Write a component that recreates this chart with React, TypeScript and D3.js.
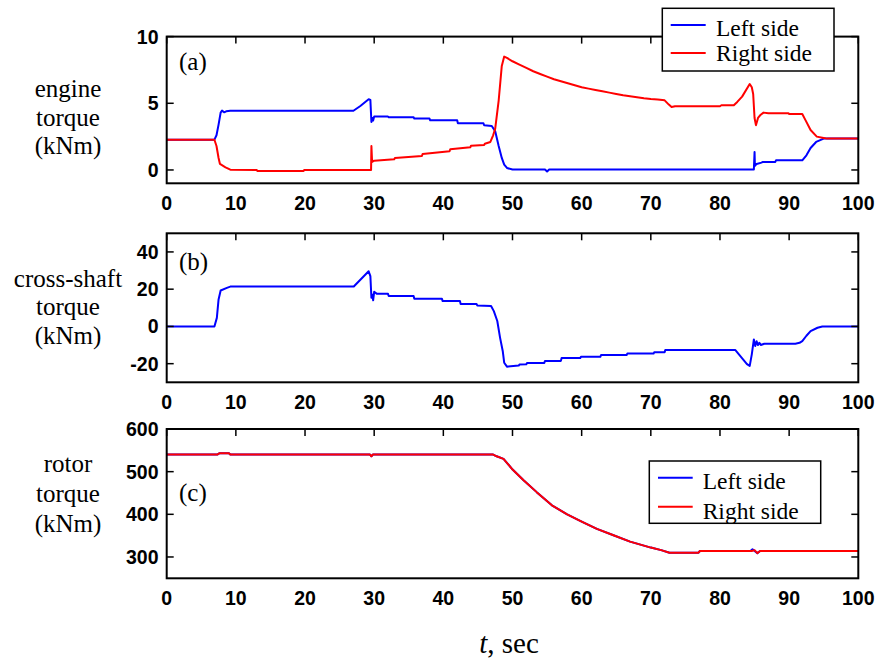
import React from "react";
import * as d3 from "d3";

type P = [number, number];

// Panel (a): engine torque (kNm)
const engineLeft: P[] = [[0,2.27],[6.9,2.27],[7.2,2.6],[7.5,3.4],[7.8,4.3],[8.0,4.45],[8.3,4.32],[8.6,4.4],[9.2,4.44],[27.0,4.44],[28.0,4.8],[29.2,5.3],[29.45,5.25],[29.6,3.6],[29.75,3.9],[29.85,3.7],[30.0,4.0],[32.0,4.0],[32.1,3.95],[35.7,3.95],[35.8,3.85],[38.0,3.85],[38.1,3.72],[42.0,3.72],[42.1,3.5],[45.8,3.5],[45.9,3.35],[47.0,3.3],[47.5,2.9],[48.0,1.8],[48.45,0.9],[48.8,0.4],[49.2,0.15],[50.0,0.03],[54.7,0.03],[55.0,-0.12],[55.3,0.03],[84.9,0.03],[85.0,1.35],[85.05,0.3],[85.3,0.45],[86.0,0.55],[86.2,0.6],[88.0,0.6],[88.1,0.72],[91.9,0.72],[92.5,1.1],[93.1,1.65],[93.9,2.1],[95.0,2.35],[100,2.35]];
const engineRight: P[] = [[0,2.27],[6.9,2.27],[7.2,1.8],[7.5,0.9],[7.7,0.45],[8.5,0.2],[9.2,0.02],[13,0.0],[13.1,-0.07],[19.8,-0.07],[19.9,0.0],[29.55,0.0],[29.6,1.8],[29.7,0.6],[30.0,0.7],[32.9,0.8],[33,0.9],[36.9,1.05],[37,1.2],[40.9,1.4],[41,1.55],[43.9,1.7],[44,1.82],[45.9,1.88],[46,1.97],[46.8,2.1],[47.2,2.6],[47.5,3.1],[48.0,5.2],[48.45,7.8],[48.8,8.5],[49.2,8.4],[50,8.15],[51,7.9],[52,7.65],[53,7.4],[54,7.2],[55,7.0],[56,6.8],[57,6.65],[58,6.5],[59,6.35],[60,6.2],[61,6.1],[62,6.0],[63,5.9],[64,5.8],[65,5.7],[66,5.6],[67,5.53],[68,5.46],[69,5.38],[70,5.32],[71,5.28],[72,5.22],[72.6,4.9],[73,4.72],[73.5,4.78],[80,4.78],[80.2,4.85],[82.0,4.85],[82.5,5.1],[83.2,5.5],[84.3,6.44],[84.6,6.2],[84.8,5.7],[85.0,3.9],[85.2,3.36],[85.5,3.9],[85.8,4.1],[86.3,4.3],[87,4.25],[89.9,4.25],[90,4.2],[91.9,4.2],[92.4,3.7],[93.1,3.0],[94,2.5],[95,2.4],[95.5,2.35],[100,2.35]];

// Panel (b): cross-shaft torque (kNm)
const crossShaft: P[] = [[0,0],[6.9,0],[7.25,4.6],[7.5,14.5],[7.8,19.3],[8.7,20.7],[9.2,21.4],[27.05,21.4],[29.2,29.6],[29.45,27],[29.6,15.4],[29.75,17],[29.85,14.0],[30.0,18.6],[30.4,17.5],[32.0,17.5],[32.1,16.3],[35.7,16.3],[35.8,14.8],[39.8,14.8],[39.9,13.6],[42.4,13.6],[42.5,12.1],[44.8,12.1],[44.9,11.3],[46.9,11.0],[47.3,8.2],[47.8,2.9],[48.2,-6],[48.6,-13.5],[48.8,-19.5],[49.2,-21.6],[50.9,-21.0],[51,-20.5],[52,-20.3],[52.1,-19.6],[54.6,-19.6],[54.7,-18.5],[57,-18.5],[57.1,-17.0],[59.8,-17.0],[59.9,-16.3],[62.7,-16.3],[62.8,-15.4],[66.5,-15.4],[66.6,-14.6],[70.4,-14.6],[70.5,-13.8],[72,-13.8],[72.1,-12.6],[82.2,-12.6],[83.9,-20.2],[84.3,-21.2],[84.6,-15],[84.9,-7],[85.1,-10.5],[85.3,-8],[85.5,-10],[85.7,-8.8],[85.9,-10],[86.4,-9.3],[90.9,-9.3],[91.5,-8.8],[91.9,-7.9],[92.5,-5],[93.1,-2.5],[94.1,-0.7],[94.8,0],[100,0]];

// Panel (c): rotor torque (kNm)
const rotorLeft: P[] = [[0,540],[7.3,540],[7.6,543],[9,543],[9.2,540],[29.4,540],[29.6,536],[29.8,540],[47.2,540],[47.7,536],[48.7,530],[49.9,507],[51.6,480],[53.5,452],[55.7,421],[57.9,400],[60,383],[62.2,366],[64.6,351],[67,336],[70,322],[71.5,316],[72.7,310],[76.9,310],[77.1,314],[84.4,314],[84.7,318],[85.4,309],[85.8,314],[100,314]];
const rotorRight: P[] = [[0,540],[7.3,540],[7.6,543],[9,543],[9.2,540],[29.4,540],[29.6,536],[29.8,540],[47.2,540],[47.7,536],[48.7,530],[49.9,507],[51.6,480],[53.5,452],[55.7,421],[57.9,400],[60,383],[62.2,366],[64.6,351],[67,336],[70,322],[71.5,316],[72.7,310],[76.9,310],[77.1,314],[84.6,314],[85.0,316],[85.4,309],[85.8,314],[100,314]];

const xTicks = [0, 10, 20, 30, 40, 50, 60, 70, 80, 90, 100];
const yTicksA = [0, 5, 10];
const yTicksB = [-20, 0, 20, 40];
const yTicksC = [300, 400, 500, 600];
const legendLabels = ["Left side", "Right side"];
const BLUE = "#0000ff";
const RED = "#ff0000";

const SANS = "'Liberation Sans', Arial, Helvetica, sans-serif";
const SERIF = "'Liberation Serif', 'Times New Roman', Times, serif";

const x = d3.scaleLinear().domain([0, 100]).range([166.7, 858.3]);

interface PanelProps {
  top: number;
  bottom: number;
  domain: [number, number];
  yTicks: number[];
  series: { data: P[]; color: string }[];
  letter: string;
  letterY: number;
  yLabel: string[];
  yLabelBaselines: number[];
  legend?: { x0: number; y0: number; x1: number; y1: number; lx0: number; lx1: number; tx: number; rows: number[]; base: number[] };
}

function Panel(p: PanelProps) {
  const y = d3.scaleLinear().domain(p.domain).range([p.bottom, p.top]);
  const line = d3.line<P>().x(d => x(d[0])).y(d => y(d[1]));
  const [xl, xr] = x.range();
  const tl = 7;
  return (
    <g>
      {p.series.map((s, i) => (
        <path key={i} d={line(s.data) || ""} fill="none" stroke={s.color} strokeWidth={2} strokeLinejoin="round" />
      ))}
      {xTicks.map(t => (
        <g key={"xt" + t}>
          <line x1={x(t)} x2={x(t)} y1={p.top} y2={p.top + tl} stroke="#000" strokeWidth={1.5} />
          <text x={x(t)} y={p.bottom + 26.5} textAnchor="middle" fontFamily={SANS} fontWeight="bold" fontSize={19.5}>{t}</text>
        </g>
      ))}
      {p.yTicks.map(t => (
        <g key={"yt" + t}>
          <line x1={xl} x2={xl + tl} y1={y(t)} y2={y(t)} stroke="#000" strokeWidth={1.5} />
          <line x1={xr} x2={xr - tl} y1={y(t)} y2={y(t)} stroke="#000" strokeWidth={1.5} />
          <text x={158.5} y={y(t)} dy="0.36em" textAnchor="end" fontFamily={SANS} fontWeight="bold" fontSize={19.5}>{t}</text>
        </g>
      ))}
      <rect x={xl} y={p.top} width={xr - xl} height={p.bottom - p.top} fill="none" stroke="#000" strokeWidth={2} />
      <text x={179} y={p.letterY} fontFamily={SERIF} fontSize={25}>{p.letter}</text>
      {p.yLabel.map((s, i) => (
        <text key={"yl" + i} x={68} y={p.yLabelBaselines[i]} textAnchor="middle" fontFamily={SERIF} fontSize={25}>{s}</text>
      ))}
      {p.legend && (
        <g>
          <rect x={p.legend.x0} y={p.legend.y0} width={p.legend.x1 - p.legend.x0} height={p.legend.y1 - p.legend.y0} fill="#fff" stroke="#000" strokeWidth={1.5} />
          {legendLabels.map((lab, i) => (
            <g key={lab}>
              <line x1={p.legend!.lx0} x2={p.legend!.lx1} y1={p.legend!.rows[i]} y2={p.legend!.rows[i]} stroke={i === 0 ? BLUE : RED} strokeWidth={2} />
              <text x={p.legend!.tx} y={p.legend!.base[i]} fontFamily={SERIF} fontSize={23.5}>{lab}</text>
            </g>
          ))}
        </g>
      )}
    </g>
  );
}

export default function App() {
  return (
    <svg width={881} height={659} style={{ position: "absolute", left: 0, top: 0, background: "#fff" }}>
      <rect x={0} y={0} width={881} height={659} fill="#fff" />
      <Panel
        top={36.6}
        bottom={183.3}
        domain={[-1, 10]}
        yTicks={yTicksA}
        series={[{ data: engineLeft, color: BLUE }, { data: engineRight, color: RED }]}
        letter="(a)"
        letterY={70}
        yLabel={["engine", "torque", "(kNm)"]}
        yLabelBaselines={[96.7, 125.5, 154.3]}
        legend={{ x0: 662.3, y0: 8.3, x1: 834, y1: 71, lx0: 670.7, lx1: 705.7, tx: 716, rows: [25, 53], base: [36, 61] }}
      />
      <Panel
        top={233.3}
        bottom={382.3}
        domain={[-30, 50]}
        yTicks={yTicksB}
        series={[{ data: crossShaft, color: BLUE }]}
        letter="(b)"
        letterY={270}
        yLabel={["cross-shaft", "torque", "(kNm)"]}
        yLabelBaselines={[286.7, 315.3, 344]}
      />
      <Panel
        top={429}
        bottom={578.3}
        domain={[250, 600]}
        yTicks={yTicksC}
        series={[{ data: rotorLeft, color: BLUE }, { data: rotorRight, color: RED }]}
        letter="(c)"
        letterY={500.7}
        yLabel={["rotor", "torque", "(kNm)"]}
        yLabelBaselines={[471.7, 501.7, 531.7]}
        legend={{ x0: 649.3, y0: 461, x1: 820.7, y1: 523.3, lx0: 658, lx1: 692.7, tx: 702.7, rows: [477.7, 506.7], base: [489, 519] }}
      />
      <text x={509} y={653} textAnchor="middle" fontFamily={SERIF} fontSize={29}>
        <tspan fontStyle="italic">t</tspan>, sec
      </text>
    </svg>
  );
}
